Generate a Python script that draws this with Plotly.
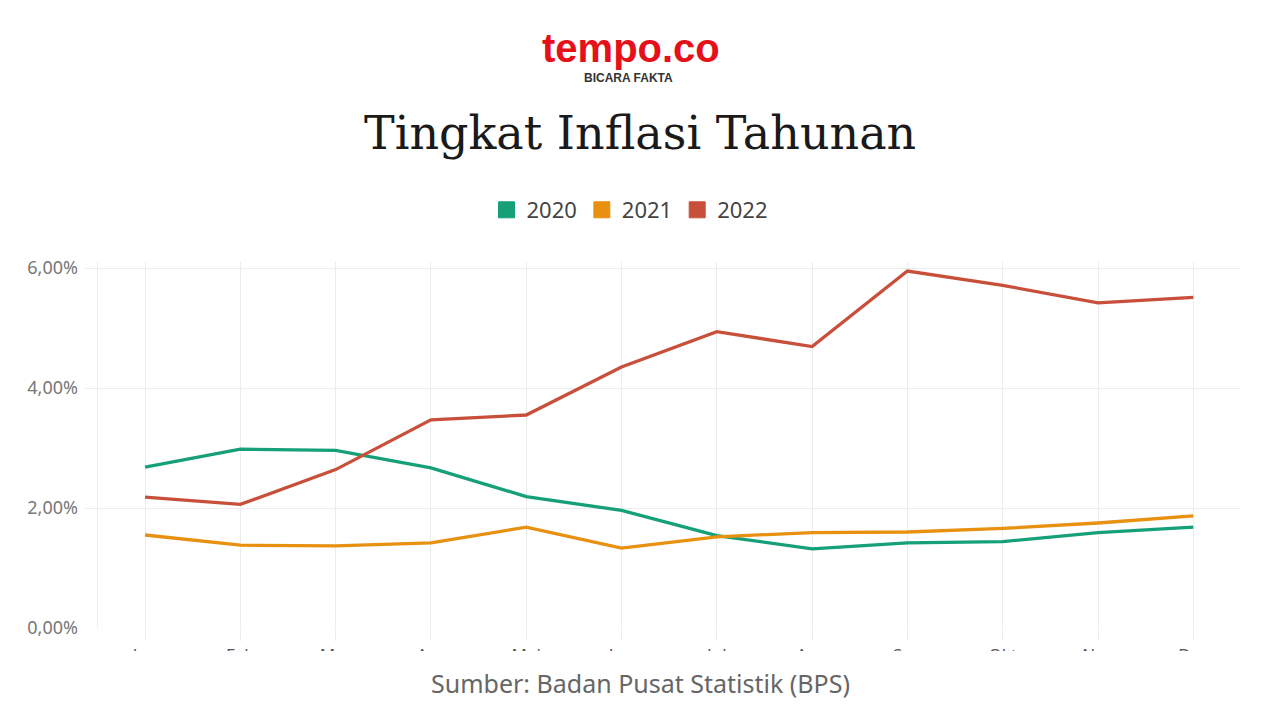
import plotly.graph_objects as go

months = ["Jan", "Feb", "Mar", "Apr", "Mei", "Jun", "Jul", "Agu", "Sep", "Okt", "Nov", "Des"]
inflasi_2020 = [2.68, 2.98, 2.96, 2.67, 2.19, 1.96, 1.54, 1.32, 1.42, 1.44, 1.59, 1.68]
inflasi_2021 = [1.55, 1.38, 1.37, 1.42, 1.68, 1.33, 1.52, 1.59, 1.60, 1.66, 1.75, 1.87]
inflasi_2022 = [2.18, 2.06, 2.64, 3.47, 3.55, 4.35, 4.94, 4.69, 5.95, 5.71, 5.42, 5.51]
series_names = ["2020", "2021", "2022"]
colors = ["#16a079", "#e8900f", "#c8503b"]
y_ticks = [0, 2, 4, 6]
y_tick_labels = ["0,00%", "2,00%", "4,00%", "6,00%"]

W, H = 1280, 720
plot_left, plot_right = 85, 1240
plot_top, plot_bottom = 262, 628
plot_h = plot_bottom - plot_top
plot_w = plot_right - plot_left


def py(ypx):
    return (plot_bottom - ypx) / plot_h


def px(xpx):
    return (xpx - plot_left) / plot_w


fig = go.Figure()
x_idx = list(range(len(months)))
for name, vals, col in zip(series_names, [inflasi_2020, inflasi_2021, inflasi_2022], colors):
    fig.add_trace(go.Scatter(
        x=x_idx, y=vals, mode="lines", name=name, showlegend=False,
        line=dict(color=col, width=3.3), hoverinfo="skip",
    ))
for name, col in zip(series_names, colors):
    fig.add_trace(go.Scatter(
        x=[None], y=[None], mode="markers", name=name,
        marker=dict(symbol="square", size=20, color=col, line=dict(color=col, width=1)),
    ))

grid = "#ececec"
fig.update_layout(
    width=W, height=H,
    margin=dict(l=plot_left, r=W - plot_right, t=plot_top, b=H - plot_bottom),
    paper_bgcolor="white", plot_bgcolor="white",
    font=dict(family="Noto Sans", color="#666"),
    showlegend=True,
    legend=dict(
        orientation="h", x=px(630), xanchor="center", y=py(210), yanchor="middle",
        font=dict(size=22, color="#444", family="Noto Sans"),
        itemwidth=30, itemsizing="trace",
    ),
    xaxis=dict(
        range=[-0.63, 11.49], tickvals=x_idx, ticktext=months,
        showgrid=True, gridcolor=grid, gridwidth=1, zeroline=False,
        ticks="outside", ticklen=12, tickcolor=grid, showline=False,
        tickfont=dict(size=17, color="#555"),
        minor=dict(tickvals=[-0.5], showgrid=True, gridcolor=grid, ticks=""),
    ),
    yaxis=dict(
        range=[0, 6.1], tickvals=y_ticks, ticktext=y_tick_labels,
        showgrid=True, gridcolor=grid, gridwidth=1, zeroline=False,
        tickfont=dict(size=18, color="#777"), ticklabelstandoff=6,
    ),
    shapes=[dict(
        type="rect", xref="paper", yref="paper", layer="above",
        x0=-0.2, x1=1.2, y0=-0.3, y1=py(651),
        fillcolor="white", line=dict(width=0),
    )],
    annotations=[
        dict(text="<b>tempo.co</b>", xref="paper", yref="paper",
             x=px(631), y=py(48), xanchor="center", yanchor="middle",
             showarrow=False, font=dict(family="Liberation Sans", size=40, color="#e5101a")),
        dict(text="<b>BICARA FAKTA</b>", xref="paper", yref="paper",
             x=px(628), y=py(78), xanchor="center", yanchor="middle",
             showarrow=False, font=dict(family="Liberation Sans", size=12, color="#333")),
        dict(text="Tingkat Inflasi Tahunan", xref="paper", yref="paper",
             x=px(640), y=py(133), xanchor="center", yanchor="middle",
             showarrow=False, font=dict(family="DejaVu Serif", size=46, color="#1a1a1a")),
        dict(text="Sumber: Badan Pusat Statistik (BPS)", xref="paper", yref="paper",
             x=px(640), y=py(683), xanchor="center", yanchor="middle",
             showarrow=False, font=dict(family="Noto Sans", size=25, color="#666")),
    ],
)

fig.write_html("out.html")
